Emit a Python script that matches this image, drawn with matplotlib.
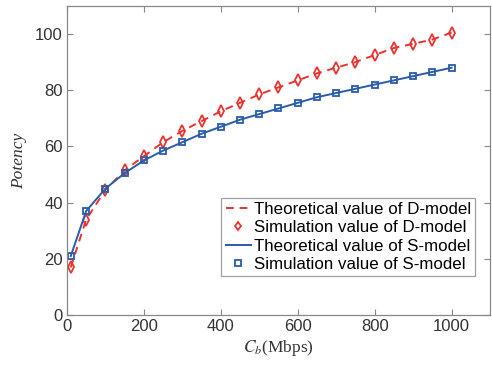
import matplotlib
matplotlib.use('Agg')
import matplotlib.pyplot as plt

# Data
cb = [10, 50, 100, 150, 200, 250, 300, 350, 400, 450, 500,
      550, 600, 650, 700, 750, 800, 850, 900, 950, 1000]
d_theory = [17, 34, 44.5, 51.5, 56.5, 61.5, 65.5, 69, 72.5, 75.5, 78.5,
            81, 83.5, 86, 88, 90, 92.5, 95, 96.5, 98, 100.5]
d_sim = [17, 34, 44.5, 51.5, 56.5, 61.5, 65.5, 69, 72.5, 75.5, 78.5,
         81, 83.5, 86, 88, 90, 92.5, 95, 96.5, 98, 100.5]
s_theory = [21, 37, 45, 50.5, 55, 58.5, 61.5, 64.5, 67, 69.5, 71.5,
            73.5, 75.5, 77.5, 79, 80.5, 82, 83.5, 85, 86.5, 88]
s_sim = [21, 37, 45, 50.5, 55, 58.5, 61.5, 64.5, 67, 69.5, 71.5,
         73.5, 75.5, 77.5, 79, 80.5, 82, 83.5, 85, 86.5, 88]

plt.rcParams['font.family'] = ['Liberation Sans', 'DejaVu Sans']
plt.rcParams['mathtext.fontset'] = 'stix'

red = '#e8332e'
blue = '#2a5caa'
gray = '#888888'

fig = plt.figure(figsize=(4.92, 3.66), dpi=100)
ax = fig.add_axes([0.136, 0.139, 0.860, 0.845])

ax.plot(cb, d_theory, '--', color=red, linewidth=1.4, dashes=(4, 3),
        label='Theoretical value of D-model')
ax.plot(cb, d_sim, 'd', color=red, markerfacecolor='none', markersize=5.8, markeredgewidth=1.3,
        linestyle='none', label='Simulation value of D-model')
ax.plot(cb, s_theory, '-', color=blue, linewidth=1.4, label='Theoretical value of S-model')
ax.plot(cb, s_sim, 's', color=blue, markerfacecolor='none', markersize=5, markeredgewidth=1.3,
        linestyle='none', label='Simulation value of S-model')

ax.set_xlim(0, 1100)
ax.set_ylim(0, 110)
ax.set_xticks([0, 200, 400, 600, 800, 1000])
ax.set_yticks([0, 20, 40, 60, 80, 100])
ax.tick_params(direction='in', top=True, right=True, labelsize=12,
               colors='#333333', length=4, width=0.8, pad=3)
ax.tick_params(axis='both', color=gray)
for s in ax.spines.values():
    s.set_color(gray)
    s.set_linewidth(0.9)

ax.set_xlabel('$C_b$(Mbps)', family='Liberation Serif', fontsize=12.5, color='#333333', labelpad=3)
ax.set_ylabel('Potency', family='Liberation Serif', style='italic', fontsize=12.5,
              color='#333333', labelpad=6)

leg = ax.legend(loc='lower right', bbox_to_anchor=(0.9645, 0.126), fontsize=12.2,
                frameon=True, fancybox=False, edgecolor=gray, handlelength=1.5,
                handletextpad=0.15, borderpad=0.25, labelspacing=0.2, borderaxespad=0,
                markerscale=0.75)
leg.get_frame().set_linewidth(0.9)

fig.savefig('out.png', dpi=100)
